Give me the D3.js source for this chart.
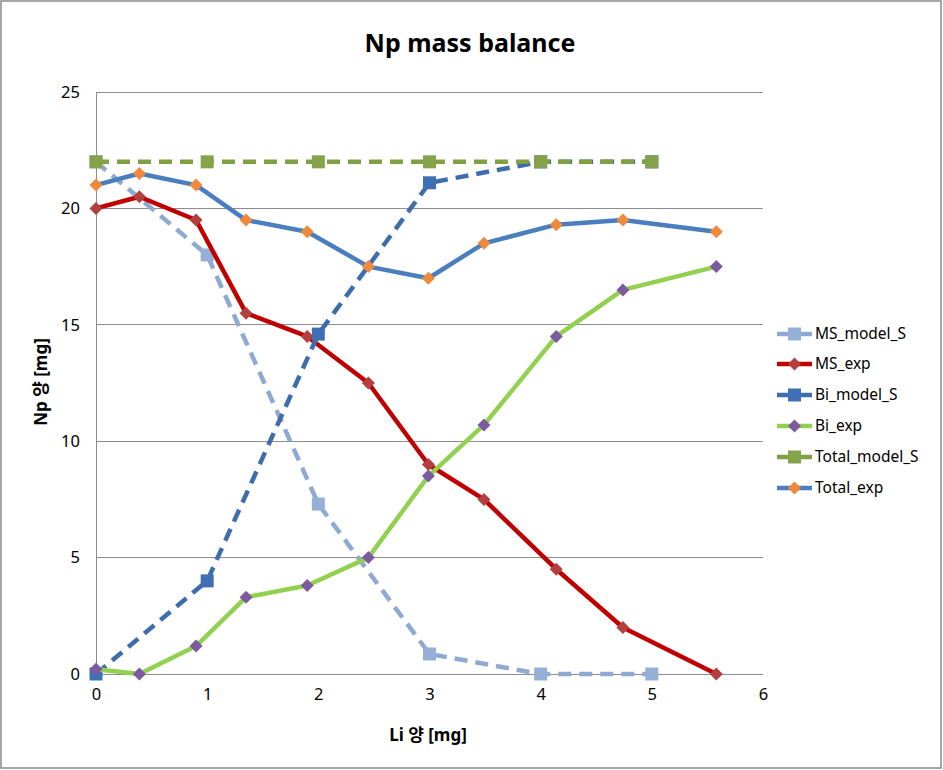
<!DOCTYPE html>
<html><head><meta charset="utf-8">
<script src="https://cdn.jsdelivr.net/npm/d3@7"></script>
<style>
html,body{margin:0;padding:0;background:#fff;}
svg text{font-family:"Noto Sans","Noto Sans CJK KR",sans-serif;}
</style></head>
<body><svg id="chart" width="943" height="770"></svg>
<script>
const xModel = [0, 1, 2, 3, 4, 5];
const xExp = [0, 0.39, 0.9, 1.35, 1.9, 2.45, 2.99, 3.49, 4.14, 4.74, 5.58];
const msModel = [22, 18, 7.3, 0.86, 0, 0];
const msExp = [20, 20.5, 19.5, 15.5, 14.5, 12.5, 9.0, 7.5, 4.5, 2.0, 0];
const biModel = [0, 4.0, 14.6, 21.1, 22, 22];
const biExp = [0.2, 0, 1.2, 3.3, 3.8, 5.0, 8.5, 10.7, 14.5, 16.5, 17.5];
const totalModel = [22, 22, 22, 22, 22, 22];
const totalExp = [21, 21.5, 21, 19.5, 19, 17.5, 17, 18.5, 19.3, 19.5, 19.0];
const xTicks = [0, 1, 2, 3, 4, 5, 6];
const yTicks = [0, 5, 10, 15, 20, 25];

const series = [
  {name:"MS_model_S", xs:xModel, ys:msModel, line:"#8EAAD2", marker:"#95B0D8", shape:"square", dash:true},
  {name:"MS_exp", xs:xExp, ys:msExp, line:"#C00000", marker:"#B3403E", shape:"diamond", dash:false},
  {name:"Bi_model_S", xs:xModel, ys:biModel, line:"#3E6DAE", marker:"#3F70B3", shape:"square", dash:true},
  {name:"Bi_exp", xs:xExp, ys:biExp, line:"#92D050", marker:"#7B5A9E", shape:"diamond", dash:false},
  {name:"Total_model_S", xs:xModel, ys:totalModel, line:"#7FA043", marker:"#84A34A", shape:"square", dash:true},
  {name:"Total_exp", xs:xExp, ys:totalExp, line:"#4A7EBF", marker:"#F0893A", shape:"diamond", dash:false}
];

const svg = d3.select("#chart");
svg.append("rect").attr("x",1).attr("y",1).attr("width",940).attr("height",767)
  .attr("fill","#fff").attr("stroke","#8a8a8a").attr("stroke-width",1.5);

const x = d3.scaleLinear().domain([0,6]).range([96,763]);
const y = d3.scaleLinear().domain([0,25]).range([674,92]);

svg.append("g").selectAll("line").data(yTicks).join("line")
  .attr("x1",x(0)).attr("x2",x(6)).attr("y1",d=>y(d)).attr("y2",d=>y(d))
  .attr("stroke","#8c8c8c").attr("stroke-width",1).attr("shape-rendering","crispEdges");
svg.append("line").attr("x1",x(0)).attr("x2",x(0)).attr("y1",y(25)).attr("y2",y(0))
  .attr("stroke","#8c8c8c").attr("stroke-width",1).attr("shape-rendering","crispEdges");

const yAxis = svg.append("g").attr("transform",`translate(${x(0)},0)`)
  .call(d3.axisLeft(y).tickValues(yTicks).tickSize(0).tickPadding(16).tickFormat(d3.format("d")));
yAxis.select(".domain").remove();
yAxis.selectAll("text").attr("font-size",16.5).attr("fill","#000");

const xAxis = svg.append("g").attr("transform",`translate(0,${y(0)})`)
  .call(d3.axisBottom(x).tickValues(xTicks).tickSize(0).tickPadding(14).tickFormat(d3.format("d")));
xAxis.select(".domain").remove();
xAxis.selectAll("text").attr("font-size",16.5).attr("fill","#000");

svg.append("text").attr("x",470).attr("y",52).attr("text-anchor","middle")
  .attr("font-size",25).attr("font-weight","bold").text("Np mass balance");
svg.append("text").attr("x",428).attr("y",741).attr("text-anchor","middle")
  .attr("font-size",17).attr("font-weight","bold").text("Li 양 [mg]");
svg.append("text").attr("transform","translate(47,382) rotate(-90)").attr("text-anchor","middle")
  .attr("font-size",17).attr("font-weight","bold").text("Np 양 [mg]");

const lineGen = d3.line().x(d=>x(d[0])).y(d=>y(d[1]));

function drawMarker(g, shape, cx, cy, color){
  if(shape==="square"){
    const s = 13;
    g.append("rect").attr("x",cx-s/2).attr("y",cy-s/2).attr("width",s).attr("height",s).attr("fill",color);
  } else {
    const r = 6.5;
    g.append("path").attr("d",`M${cx},${cy-r}L${cx+r},${cy}L${cx},${cy+r}L${cx-r},${cy}Z`).attr("fill",color);
  }
}

const plot = svg.append("g");
series.forEach(s=>{
  const pts = s.xs.map((xv,i)=>[xv,s.ys[i]]);
  const g = plot.append("g");
  g.append("path").attr("d",lineGen(pts)).attr("fill","none").attr("stroke",s.line)
    .attr("stroke-width",4.5).attr("stroke-dasharray",s.dash?"13,8":null).attr("stroke-linejoin","round");
  pts.forEach(p=>drawMarker(g,s.shape,x(p[0]),y(p[1]),s.marker));
});

const legY = [334, 364, 395, 426, 457, 488];
const leg = svg.append("g");
series.forEach((s,i)=>{
  const g = leg.append("g");
  g.append("line").attr("x1",777).attr("x2",812).attr("y1",legY[i]).attr("y2",legY[i])
    .attr("stroke",s.line).attr("stroke-width",4.5);
  drawMarker(g,s.shape,794.5,legY[i],s.marker);
  g.append("text").attr("x",815).attr("y",legY[i]).attr("dy","0.35em")
    .attr("font-size",15.5).attr("fill","#000").text(s.name);
});
</script></body></html>
